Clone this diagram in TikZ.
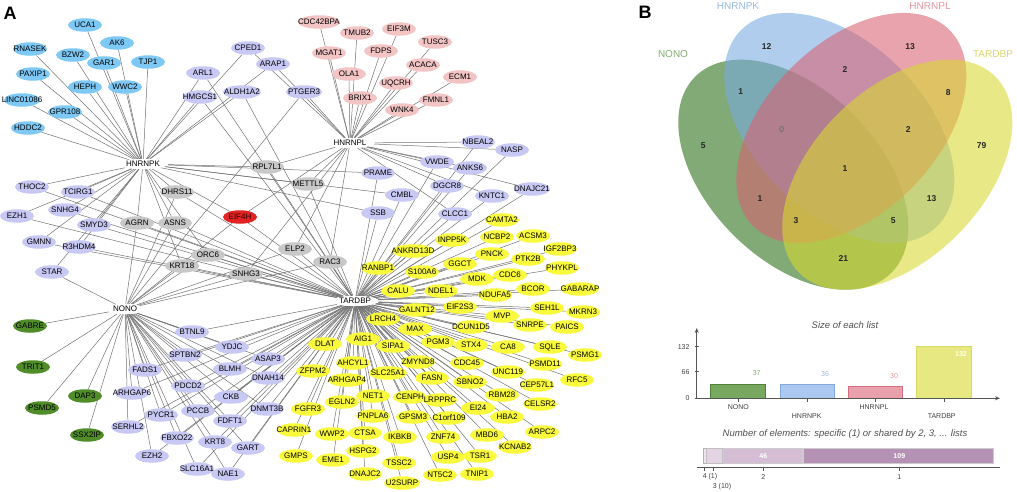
\documentclass[tikz,border=0pt]{standalone}
\usepackage{fontspec}
\setmainfont{Liberation Sans}
\usetikzlibrary{shapes.geometric,backgrounds,arrows.meta}
\definecolor{cBlue}{RGB}{125,200,245}
\definecolor{cPink}{RGB}{242,196,196}
\definecolor{cLav}{RGB}{200,200,245}
\definecolor{cGray}{RGB}{200,200,200}
\definecolor{cRed}{RGB}{225,35,35}
\definecolor{cYel}{RGB}{250,250,60}
\definecolor{cGreen}{RGB}{80,140,40}
\definecolor{edgeC}{RGB}{115,115,115}
\definecolor{vGreen}{RGB}{40,110,20}
\definecolor{vBlue}{RGB}{120,170,225}
\definecolor{vPink}{RGB}{217,97,113}
\definecolor{vYel}{RGB}{217,217,47}
\definecolor{tGreen}{RGB}{130,175,115}
\definecolor{tBlue}{RGB}{150,185,225}
\definecolor{tPink}{RGB}{230,150,160}
\definecolor{tYel}{RGB}{215,215,110}
\definecolor{bGreenF}{RGB}{120,168,96}
\definecolor{bGreenD}{RGB}{80,130,60}
\definecolor{bBlueF}{RGB}{170,200,240}
\definecolor{bBlueD}{RGB}{130,170,220}
\definecolor{bPinkF}{RGB}{232,160,170}
\definecolor{bPinkD}{RGB}{210,110,125}
\definecolor{bYelF}{RGB}{232,232,130}
\definecolor{bYelD}{RGB}{215,215,100}
\definecolor{axisC}{RGB}{85,85,85}
\definecolor{titleC}{RGB}{80,80,80}
\tikzset{
 gnode/.style={ellipse,draw=none,minimum width=34pt,minimum height=13.5pt,inner sep=0pt,font=\fontsize{8}{8}\selectfont},
 hub/.style={ellipse,fill=white,inner sep=0.8pt,font=\fontsize{8}{8}\selectfont},
 edge/.style={draw=edgeC,line width=0.5pt},
 vnum/.style={font=\fontsize{8.5}{9}\selectfont\bfseries,text=black!85},
 vlab/.style={font=\fontsize{10}{11}\selectfont},
 btitle/.style={font=\fontsize{9.5}{10}\selectfont\itshape,text=titleC},
 small/.style={font=\fontsize{7}{8}\selectfont,text=black!75},
 axisln/.style={draw=axisC,line width=0.8pt},
 panel/.style={font=\fontsize{18}{18}\selectfont\bfseries}
}
\newcommand\Gnode[5][34pt]{\node[gnode,fill=#5,minimum width=#1] (#2) at (#3,#4) {\makebox[0pt]{#2}};}
\def\listK{UCA1,AK6,RNASEK,BZW2,GAR1,TJP1,PAXIP1,HEPH,WWC2,LINC01086,GPR108,HDDC2}
\def\listL{CDC42BPA,TMUB2,EIF3M,MGAT1,FDPS,OLA1,UQCRH,BRIX1,WNK4,TUSC3,ACACA,ECM1,FMNL1}
\def\listN{GABRE,TRIT1,DAP3,PSMD5,SSX2IP}
\def\listKT{ARL1,HMGCS1,ALDH1A2,THOC2,TCIRG1,SNHG4,EZH1,SMYD3,GMNN,R3HDM4,PRAME,CMBL,SSB}
\def\listKL{CPED1,ARAP1}
\def\listLT{NBEAL2,NASP,VWDE,ANKS6,DGCR8,KNTC1,DNAJC21,CLCC1}
\def\listNT{BTNL9,SPTBN2,FADS1,PDCD2,ARHGAP6,PYCR1,PCCB,SERHL2,FBXO22,EZH2,SLC16A1,YDJC,BLMH,ASAP3,DNAH14,CKB,DNMT3B,FDFT1,KRT8,GART,NAE1}
\def\listKLT{RPL7L1,METTL5}
\def\listNKT{DHRS11,AGRN,ASNS,ORC6,KRT18}
\def\listNLT{ELP2,RAC3,SNHG3}
\def\listT{CAMTA2,INPP5K,NCBP2,ACSM3,IGF2BP3,ANKRD13D,PNCK,PTK2B,GGCT,RANBP1,S100A6,PHYKPL,CDC6,MDK,CALU,NDEL1,NDUFA5,BCOR,GABARAP,GALNT12,EIF2S3,SEH1L,MKRN3,MVP,LRCH4,MAX,DCUN1D5,SNRPE,PAICS,PGM3,STX4,CA8,SQLE,PSMG1,DLAT,AIG1,SIPA1,ZMYND8,CDC45,UNC119,PSMD11,RFC5,AHCYL1,SLC25A1,ZFPM2,ARHGAP4,FASN,SBNO2,CEP57L1,CENPH,LRPPRC,RBM28,CELSR2,NET1,EGLN2,EI24,GPSM3,C1orf109,HBA2,FGFR3,PNPLA6,ARPC2,MBD6,CAPRIN1,WWP2,CTSA,IKBKB,ZNF74,KCNAB2,HSPG2,USP4,TSR1,GMPS,EME1,TSSC2,DNAJC2,NT5C2,TNIP1,U2SURP}
\begin{document}
\begin{tikzpicture}[x=1pt,y=-1pt]
\useasboundingbox (0,0) rectangle (1017,491);
% panel letters
\node[panel] (pA) at (10,13) {A};
\node[panel] (pB) at (645,12) {B};
% hubs
\node[hub] (HNRNPK) at (143,164) {HNRNPK};
\node[hub] (HNRNPL) at (350,143) {HNRNPL};
\node[hub] (NONO) at (125,309) {NONO};
\node[hub] (TARDBP) at (355,301) {TARDBP};
% blue
\Gnode{UCA1}{85}{25}{cBlue}
\Gnode{AK6}{117}{43}{cBlue}
\Gnode{RNASEK}{30}{49}{cBlue}
\Gnode{BZW2}{73}{55}{cBlue}
\Gnode{GAR1}{104}{63}{cBlue}
\Gnode{TJP1}{148}{62}{cBlue}
\Gnode{PAXIP1}{33}{74}{cBlue}
\Gnode{HEPH}{85}{87}{cBlue}
\Gnode{WWC2}{125}{87}{cBlue}
\Gnode[36pt]{LINC01086}{22}{100}{cBlue}
\Gnode{GPR108}{65}{112}{cBlue}
\Gnode{HDDC2}{28}{128}{cBlue}
% pink
\Gnode[42pt]{CDC42BPA}{319}{22}{cPink}
\Gnode{TMUB2}{357}{33}{cPink}
\Gnode{EIF3M}{399}{29}{cPink}
\Gnode{MGAT1}{329}{53}{cPink}
\Gnode{FDPS}{381}{51}{cPink}
\Gnode{OLA1}{349}{74}{cPink}
\Gnode{UQCRH}{396}{83}{cPink}
\Gnode{BRIX1}{360}{98}{cPink}
\Gnode{WNK4}{402}{110}{cPink}
\Gnode{TUSC3}{435}{42}{cPink}
\Gnode{ACACA}{423}{65}{cPink}
\Gnode{ECM1}{460}{77}{cPink}
\Gnode{FMNL1}{436}{100}{cPink}
% lavender
\Gnode{CPED1}{248}{48}{cLav}
\Gnode{ARAP1}{273}{64}{cLav}
\Gnode{ARL1}{203}{73}{cLav}
\Gnode{HMGCS1}{200}{97}{cLav}
\Gnode[38pt]{ALDH1A2}{242}{92}{cLav}
\Gnode[36pt]{PTGER3}{304}{92}{cLav}
\Gnode{THOC2}{32}{187}{cLav}
\Gnode{TCIRG1}{78}{192}{cLav}
\Gnode{SNHG4}{65}{210}{cLav}
\Gnode{EZH1}{17}{216}{cLav}
\Gnode{SMYD3}{94}{225}{cLav}
\Gnode{GMNN}{39}{242}{cLav}
\Gnode{R3HDM4}{79}{247}{cLav}
\Gnode{STAR}{52}{272}{cLav}
\Gnode{PRAME}{378}{173}{cLav}
\Gnode{CMBL}{402}{195}{cLav}
\Gnode{SSB}{378}{213}{cLav}
\Gnode{NBEAL2}{478}{142}{cLav}
\Gnode{NASP}{512}{150}{cLav}
\Gnode{VWDE}{437}{162}{cLav}
\Gnode{ANKS6}{470}{168}{cLav}
\Gnode{DGCR8}{447}{186}{cLav}
\Gnode{KNTC1}{492}{196}{cLav}
\Gnode[36pt]{DNAJC21}{532}{189}{cLav}
\Gnode{CLCC1}{455}{214}{cLav}
\Gnode{BTNL9}{192}{332}{cLav}
\Gnode{SPTBN2}{185}{355}{cLav}
\Gnode{FADS1}{145}{370}{cLav}
\Gnode{PDCD2}{188}{386}{cLav}
\Gnode{ARHGAP6}{132}{393}{cLav}
\Gnode{PYCR1}{161}{415}{cLav}
\Gnode{PCCB}{198}{411}{cLav}
\Gnode{SERHL2}{128}{427}{cLav}
\Gnode{FBXO22}{177}{438}{cLav}
\Gnode{EZH2}{152}{456}{cLav}
\Gnode{SLC16A1}{197}{469}{cLav}
\Gnode{YDJC}{232}{347}{cLav}
\Gnode{BLMH}{230}{369}{cLav}
\Gnode{ASAP3}{268}{359}{cLav}
\Gnode{DNAH14}{268}{378}{cLav}
\Gnode{CKB}{231}{397}{cLav}
\Gnode{DNMT3B}{267}{409}{cLav}
\Gnode{FDFT1}{230}{421}{cLav}
\Gnode{KRT8}{215}{442}{cLav}
\Gnode{GART}{248}{448}{cLav}
\Gnode{NAE1}{228}{474}{cLav}
% gray
\Gnode{RPL7L1}{267}{167}{cGray}
\Gnode{METTL5}{308}{184}{cGray}
\Gnode{DHRS11}{177}{192}{cGray}
\Gnode{AGRN}{137}{223}{cGray}
\Gnode{ASNS}{175}{223}{cGray}
\Gnode{ORC6}{208}{255}{cGray}
\Gnode{KRT18}{182}{266}{cGray}
\Gnode{ELP2}{295}{249}{cGray}
\Gnode{RAC3}{330}{262}{cGray}
\Gnode{SNHG3}{246}{274}{cGray}
% red
\node[gnode,fill=cRed,text=black!80!red] (EIF4H) at (240,217) {\makebox[0pt]{EIF4H}};
% green
\Gnode{GABRE}{30}{326}{cGreen}
\Gnode{TRIT1}{33}{367}{cGreen}
\Gnode{DAP3}{85}{396}{cGreen}
\Gnode{PSMD5}{42}{408}{cGreen}
\Gnode{SSX2IP}{87}{435}{cGreen}
% yellow
\Gnode{CAMTA2}{502}{220}{cYel}
\Gnode{INPP5K}{452}{240}{cYel}
\Gnode{NCBP2}{497}{237}{cYel}
\Gnode{ACSM3}{533}{236}{cYel}
\Gnode{IGF2BP3}{560}{249}{cYel}
\Gnode[42pt]{ANKRD13D}{413}{251}{cYel}
\Gnode{PNCK}{492}{254}{cYel}
\Gnode{PTK2B}{528}{259}{cYel}
\Gnode{GGCT}{460}{264}{cYel}
\Gnode{RANBP1}{378}{268}{cYel}
\Gnode{S100A6}{422}{272}{cYel}
\Gnode{PHYKPL}{562}{268}{cYel}
\Gnode{CDC6}{510}{275}{cYel}
\Gnode{MDK}{477}{279}{cYel}
\Gnode{CALU}{398}{291}{cYel}
\Gnode{NDEL1}{441}{291}{cYel}
\Gnode{NDUFA5}{495}{295}{cYel}
\Gnode{BCOR}{533}{289}{cYel}
\Gnode[38pt]{GABARAP}{580}{289}{cYel}
\Gnode[38pt]{GALNT12}{417}{310}{cYel}
\Gnode{EIF2S3}{460}{307}{cYel}
\Gnode{SEH1L}{547}{308}{cYel}
\Gnode{MKRN3}{583}{312}{cYel}
\Gnode{MVP}{502}{316}{cYel}
\Gnode{LRCH4}{383}{319}{cYel}
\Gnode{MAX}{415}{329}{cYel}
\Gnode{DCUN1D5}{471}{327}{cYel}
\Gnode{SNRPE}{530}{325}{cYel}
\Gnode{PAICS}{567}{327}{cYel}
\Gnode{PGM3}{438}{342}{cYel}
\Gnode{STX4}{471}{345}{cYel}
\Gnode{CA8}{508}{347}{cYel}
\Gnode{SQLE}{550}{347}{cYel}
\Gnode{PSMG1}{585}{355}{cYel}
\Gnode{DLAT}{325}{344}{cYel}
\Gnode{AIG1}{363}{339}{cYel}
\Gnode{SIPA1}{393}{346}{cYel}
\Gnode{ZMYND8}{418}{362}{cYel}
\Gnode{CDC45}{467}{363}{cYel}
\Gnode{UNC119}{508}{372}{cYel}
\Gnode{PSMD11}{545}{364}{cYel}
\Gnode{RFC5}{577}{380}{cYel}
\Gnode{AHCYL1}{353}{363}{cYel}
\Gnode[38pt]{SLC25A1}{388}{373}{cYel}
\Gnode{ZFPM2}{313}{371}{cYel}
\Gnode[38pt]{ARHGAP4}{347}{380}{cYel}
\Gnode{FASN}{432}{378}{cYel}
\Gnode{SBNO2}{470}{382}{cYel}
\Gnode{CEP57L1}{537}{385}{cYel}
\Gnode{CENPH}{410}{397}{cYel}
\Gnode{LRPPRC}{440}{400}{cYel}
\Gnode{RBM28}{502}{395}{cYel}
\Gnode{CELSR2}{540}{404}{cYel}
\Gnode{NET1}{373}{396}{cYel}
\Gnode{EGLN2}{342}{402}{cYel}
\Gnode{EI24}{478}{408}{cYel}
\Gnode{GPSM3}{413}{417}{cYel}
\Gnode{C1orf109}{449}{418}{cYel}
\Gnode{HBA2}{507}{417}{cYel}
\Gnode{FGFR3}{308}{409}{cYel}
\Gnode{PNPLA6}{373}{416}{cYel}
\Gnode{ARPC2}{542}{432}{cYel}
\Gnode{MBD6}{487}{435}{cYel}
\Gnode{CAPRIN1}{294}{430}{cYel}
\Gnode{WWP2}{332}{434}{cYel}
\Gnode{CTSA}{365}{433}{cYel}
\Gnode{IKBKB}{400}{437}{cYel}
\Gnode{ZNF74}{443}{437}{cYel}
\Gnode{KCNAB2}{515}{447}{cYel}
\Gnode{HSPG2}{363}{451}{cYel}
\Gnode{USP4}{448}{457}{cYel}
\Gnode{TSR1}{480}{456}{cYel}
\Gnode{GMPS}{296}{456}{cYel}
\Gnode{EME1}{333}{460}{cYel}
\Gnode{TSSC2}{399}{463}{cYel}
\Gnode{DNAJC2}{365}{474}{cYel}
\Gnode{NT5C2}{440}{475}{cYel}
\Gnode{TNIP1}{477}{474}{cYel}
\Gnode[36pt]{U2SURP}{402}{483}{cYel}
% edges
\begin{pgfonlayer}{background}
\fill[white] (0,0) rectangle (1017,491);
\foreach \n in \listK {\draw[edge] (\n) -- (HNRNPK);}
\foreach \n in \listL {\draw[edge] (\n) -- (HNRNPL);}
\foreach \n in \listN {\draw[edge] (\n) -- (NONO);}
\foreach \n in \listT {\draw[edge] (\n) -- (TARDBP);}
\foreach \n in \listKT {\draw[edge] (\n) -- (HNRNPK); \draw[edge] (\n) -- (TARDBP);}
\foreach \n in \listKL {\draw[edge] (\n) -- (HNRNPK); \draw[edge] (\n) -- (HNRNPL);}
\foreach \n in \listLT {\draw[edge] (\n) -- (HNRNPL); \draw[edge] (\n) -- (TARDBP);}
\foreach \n in \listNT {\draw[edge] (\n) -- (NONO); \draw[edge] (\n) -- (TARDBP);}
\draw[edge] (STAR) -- (NONO); \draw[edge] (STAR) -- (HNRNPK);
\draw[edge] (PTGER3) -- (NONO); \draw[edge] (PTGER3) -- (HNRNPL);
\foreach \n in \listKLT {\draw[edge] (\n) -- (HNRNPK); \draw[edge] (\n) -- (HNRNPL); \draw[edge] (\n) -- (TARDBP);}
\foreach \n in \listNKT {\draw[edge] (\n) -- (NONO); \draw[edge] (\n) -- (HNRNPK); \draw[edge] (\n) -- (TARDBP);}
\foreach \n in \listNLT {\draw[edge] (\n) -- (NONO); \draw[edge] (\n) -- (HNRNPL); \draw[edge] (\n) -- (TARDBP);}
\foreach \h in {HNRNPK,HNRNPL,NONO,TARDBP} {\draw[edge] (EIF4H) -- (\h);}
\end{pgfonlayer}
% Venn
\begin{scope}[fill opacity=0.58]
\fill[vGreen, rotate around={-45:(793.3,174.7)}] (793.3,174.7) ellipse [x radius=138.7, y radius=85];
\fill[vBlue, rotate around={-45:(839.3,128)}] (839.3,128) ellipse [x radius=138.7, y radius=85];
\fill[vPink, rotate around={45:(851.3,128)}] (851.3,128) ellipse [x radius=138.7, y radius=85];
\fill[vYel, rotate around={45:(897.3,174.7)}] (897.3,174.7) ellipse [x radius=138.7, y radius=85];
\end{scope}
\node[vlab,text=tBlue] (lK) at (738,6) {HNRNPK};
\node[vlab,text=tPink] (lL) at (930,6) {HNRNPL};
\node[vlab,text=tGreen] (lN) at (673,54) {NONO};
\node[vlab,text=tYel] (lT) at (993,54) {TARDBP};
\node[vnum] (v1) at (766.7,46.7) {12};
\node[vnum] (v2) at (910,46.7) {13};
\node[vnum] (v3) at (740.7,91.7) {1};
\node[vnum] (v4) at (845,70) {2};
\node[vnum] (v5) at (948.3,92.7) {8};
\node[vnum] (v6) at (703.3,145.7) {5};
\node[font=\fontsize{8.5}{9}\selectfont,text=black!60] (v7) at (781.7,130) {0};
\node[vnum] (v8) at (908.3,130) {2};
\node[vnum] (v9) at (981.7,145.7) {79};
\node[vnum] (v10) at (845,168.3) {1};
\node[vnum] (v11) at (760,198.3) {1};
\node[vnum] (v12) at (931.7,198.3) {13};
\node[vnum] (v13) at (796,220.7) {3};
\node[vnum] (v14) at (893.3,220.7) {5};
\node[vnum] (v15) at (843.3,258.3) {21};
% bar chart
\node[btitle] (t1) at (845,325) {Size of each list};
\filldraw[fill=bGreenF,draw=bGreenD,line width=0.6pt] (710.7,398.3) rectangle (765.7,383.9);
\filldraw[fill=bBlueF,draw=bBlueD,line width=0.6pt] (780,398.3) rectangle (834,384.3);
\filldraw[fill=bPinkF,draw=bPinkD,line width=0.6pt] (848.3,398.3) rectangle (902.7,386.6);
\filldraw[fill=bYelF,draw=bYelD,line width=0.6pt] (916.7,398.3) rectangle (971.7,346.7);
\draw[axisln,-{Stealth[length=5pt,width=4pt]}] (696.7,399) -- (696.7,328);
\draw[axisln,-{Stealth[length=5pt,width=4pt]}] (696,398.3) -- (1000,398.3);
\foreach \yy/\tt in {346.7/132,371.7/66,398.3/0} {\draw[axisC,line width=0.5pt] (694.5,\yy) -- (698.5,\yy); \node[small,anchor=east] at (693,\yy) {\tt};}
\foreach \xx in {738.2,807,875.5,944.2} {\draw[axisC,line width=0.5pt] (\xx,398.3) -- (\xx,401.5);}
\node[small,text=tGreen] (n37) at (756.7,373.3) {37};
\node[small,text=tBlue] (n36) at (825,374) {36};
\node[small,text=tPink] (n30) at (894,376) {30};
\node[small,text=white,font=\fontsize{7}{8}\selectfont\bfseries] (n132) at (961,354.3) {132};
\node[small] (cN) at (738.3,407.3) {NONO};
\node[small] (cK) at (806.7,416) {HNRNPK};
\node[small] (cL) at (874,407.3) {HNRNPL};
\node[small] (cT) at (941.7,416) {TARDBP};
\node[btitle] (t2) at (845,434) {Number of elements: specific (1) or shared by 2, 3, ... lists};
\filldraw[fill={rgb,255:red,237;green,228;blue,237},draw=black!30,line width=0.4pt] (703.3,448.3) rectangle (705.8,463.3);
\filldraw[fill={rgb,255:red,227;green,211;blue,227},draw=black!25,line width=0.4pt] (706.5,448.3) rectangle (721.7,463.3);
\filldraw[fill={rgb,255:red,213;green,189;blue,213},draw=black!20,line width=0.4pt] (723.3,448.3) rectangle (801.7,463.3);
\filldraw[fill={rgb,255:red,181;green,146;blue,181},draw=black!20,line width=0.4pt] (803.3,448.3) rectangle (993.3,463.3);
\node[font=\fontsize{7}{8}\selectfont\bfseries,text=white] (s46) at (763.3,455.8) {46};
\node[font=\fontsize{7}{8}\selectfont\bfseries,text=white] (s109) at (899.3,455.8) {109};
\draw[axisln] (696.7,467) -- (1000,467);
\foreach \xx in {704.3,713.3,763.3,899.3} {\draw[axisC,line width=0.5pt] (\xx,467) -- (\xx,471);}
\node[small] (a4) at (710,477) {4 (1)};
\node[small] (a3) at (722,487) {3 (10)};
\node[small] (a2) at (763.3,477) {2};
\node[small] (a1) at (899.3,477) {1};
\end{tikzpicture}
\end{document}
